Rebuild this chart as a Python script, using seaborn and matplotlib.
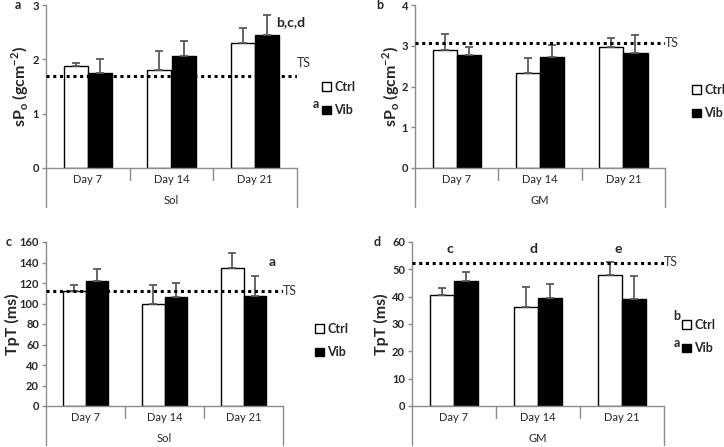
import numpy as np
import pandas as pd
import matplotlib
matplotlib.use("Agg")
import matplotlib.pyplot as plt
from matplotlib.patches import Patch
import seaborn as sns

# ---- data ----
days = ["Day 7", "Day 14", "Day 21"]
groups = ["Ctrl", "Vib"]

spo_sol_ctrl = [1.87, 1.80, 2.30]
spo_sol_vib = [1.75, 2.07, 2.44]
spo_sol_ctrl_err = [0.07, 0.36, 0.27]
spo_sol_vib_err = [0.25, 0.26, 0.38]
spo_sol_ts = 1.69

spo_gm_ctrl = [2.90, 2.32, 2.96]
spo_gm_vib = [2.78, 2.72, 2.83]
spo_gm_ctrl_err = [0.38, 0.38, 0.22]
spo_gm_vib_err = [0.20, 0.30, 0.44]
spo_gm_ts = 3.07

tpt_sol_ctrl = [112, 100, 135]
tpt_sol_vib = [122, 106, 107]
tpt_sol_ctrl_err = [6, 18, 14]
tpt_sol_vib_err = [12, 14, 20]
tpt_sol_ts = 112

tpt_gm_ctrl = [40.7, 36.3, 48.0]
tpt_gm_vib = [45.7, 39.4, 39.2]
tpt_gm_ctrl_err = [2.5, 7.3, 4.7]
tpt_gm_vib_err = [3.5, 5.4, 8.3]
tpt_gm_ts = 52.5

sns.set_style("white")
plt.rcParams['font.family'] = ['Lato', 'DejaVu Sans']
plt.rcParams['mathtext.fontset'] = 'custom'
plt.rcParams['mathtext.rm'] = 'Lato'
plt.rcParams['mathtext.bf'] = 'Lato:bold'

W, H = 724, 447
fig = plt.figure(figsize=(W / 100, H / 100), dpi=100)

GRAY = "#8c8c8c"
ERR = "#5a5a5a"


def px_axes(left, top, right, bottom):
    return fig.add_axes([left / W, (H - bottom) / H, (right - left) / W, (bottom - top) / H])


def draw_panel(ax, ctrl, vib, ctrl_err, vib_err, ts, ymax, ystep, ylabel, muscle, letter,
               label_px, letter_px, ts_dy=0.0):
    df = pd.DataFrame({
        "day": days * 2,
        "group": ["Ctrl"] * 3 + ["Vib"] * 3,
        "value": ctrl + vib,
    })
    sns.barplot(data=df, x="day", y="value", hue="group", order=days, hue_order=groups,
                palette={"Ctrl": "white", "Vib": "black"}, edgecolor="black",
                linewidth=1.0, width=0.58, errorbar=None, legend=False, ax=ax)
    # upper error bars only
    errs = ctrl_err + vib_err
    vals = ctrl + vib
    for p, v, e in zip(ax.patches, vals, errs):
        xc = p.get_x() + p.get_width() / 2
        ax.errorbar(xc, v, yerr=[[0], [e]], fmt="none", ecolor=ERR, elinewidth=1.3,
                    capsize=3, capthick=1.3, zorder=1)
    ax.set_xlim(-0.5, 2.5)
    ax.set_ylim(0, ymax)
    ticks = np.arange(0, ymax + ystep / 2, ystep)
    ax.set_yticks(ticks)
    ax.set_yticklabels([f"{t:g}" for t in ticks], fontsize=8, fontweight="bold")
    ax.tick_params(axis="y", length=3, color=GRAY, width=1, pad=2, direction="out", left=True)
    ax.tick_params(axis="x", length=0, pad=4, labelsize=8)
    ax.set_xticks(range(3))
    ax.set_xticklabels(days, fontsize=8)
    ax.set_xlabel("")
    ax.set_ylabel(ylabel, fontsize=11.5, fontweight="bold")
    pos = ax.get_position()
    ax.yaxis.set_label_coords((label_px - pos.x0 * W) / (pos.width * W), 0.5)
    ax.yaxis.label.set_verticalalignment("center")
    for s in ["top", "right"]:
        ax.spines[s].set_visible(False)
    for s in ["left", "bottom"]:
        ax.spines[s].set_color(GRAY)
        ax.spines[s].set_linewidth(1)

    # two-level category axis (day / muscle)
    hpx = pos.height * H
    tr = ax.get_xaxis_transform()
    short = 12 / hpx
    long_ = 39 / hpx
    for xb in [-0.5, 0.5, 1.5, 2.5]:
        depth = long_ if xb in (-0.5, 2.5) else short
        ax.plot([xb, xb], [0, -depth], transform=tr, color=GRAY, lw=1, clip_on=False)
    ax.text(1, -33 / hpx, muscle, transform=tr, ha="center", va="center", fontsize=8)

    # threshold line
    ax.axhline(ts, color="black", lw=2.2, ls=(0, (1, 1.2)), zorder=3)
    ax.text(2.5, ts + ts_dy, "TS", ha="left", va="center", fontsize=9, color="#333333",
            clip_on=False)

    ax.text((letter_px - pos.x0 * W) / (pos.width * W), 1.0, letter, transform=ax.transAxes,
            fontsize=9, fontweight="bold", ha="center", va="center")


ax_a = px_axes(46, 5, 297, 168)
draw_panel(ax_a, spo_sol_ctrl, spo_sol_vib, spo_sol_ctrl_err, spo_sol_vib_err, spo_sol_ts,
           3, 1, r"sP$_\mathbf{o}$ (gcm$^\mathbf{-2}$)", "Sol", "a", 20, 18, ts_dy=0.25)
ax_b = px_axes(415, 5, 665, 168)
draw_panel(ax_b, spo_gm_ctrl, spo_gm_vib, spo_gm_ctrl_err, spo_gm_vib_err, spo_gm_ts,
           4, 1, r"sP$_\mathbf{o}$ (gcm$^\mathbf{-2}$)", "GM", "b", 391, 380)
ax_c = px_axes(46, 242, 283, 406)
draw_panel(ax_c, tpt_sol_ctrl, tpt_sol_vib, tpt_sol_ctrl_err, tpt_sol_vib_err, tpt_sol_ts,
           160, 20, "TpT (ms)", "Sol", "c", 12, 9)
ax_d = px_axes(412, 242, 664, 406)
draw_panel(ax_d, tpt_gm_ctrl, tpt_gm_vib, tpt_gm_ctrl_err, tpt_gm_vib_err, tpt_gm_ts,
           60, 10, "TpT (ms)", "GM", "d", 381, 377)

# significance letters
ax_a.text(2.42, 2.69, "b,c,d", ha="center", va="center", fontsize=10, fontweight="bold")
ax_c.text(2.36, 140, "a", ha="center", va="center", fontsize=10, fontweight="bold")
for i, lt in enumerate(["c", "d", "e"]):
    ax_d.text(i - 0.05, 57.4, lt, ha="center", va="center", fontsize=10, fontweight="bold")

# legends
handles = [Patch(facecolor="white", edgecolor="black", label="Ctrl"),
           Patch(facecolor="black", edgecolor="black", label="Vib")]
legend_pos = {ax_a: (322, 81), ax_b: (692, 84), ax_c: (315, 323), ax_d: (682, 319)}
for ax, (lx, ly) in legend_pos.items():
    fig.legend(handles=handles, loc="upper left", bbox_to_anchor=(lx / W, 1 - ly / H),
               frameon=False, prop={"weight": "bold", "size": 9}, handlelength=0.7,
               handleheight=0.7, handletextpad=0.3, labelspacing=0.9, borderpad=0,
               borderaxespad=0)

fig.text(316 / W, 1 - 104 / H, "a", fontsize=9, fontweight="bold", ha="center", va="center")
fig.text(677 / W, 1 - 316 / H, "b", fontsize=9, fontweight="bold", ha="center", va="center")
fig.text(677 / W, 1 - 343 / H, "a", fontsize=9, fontweight="bold", ha="center", va="center")

fig.savefig("out.png", dpi=100)
